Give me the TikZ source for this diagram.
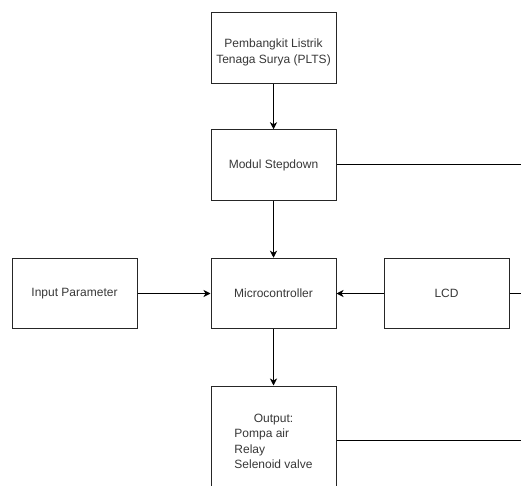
\documentclass[tikz,border=0pt]{standalone}
\usepackage{fontspec}
\setmainfont{Liberation Sans}
\usetikzlibrary{arrows.meta}
\newcommand{\lowered}[2]{\raisebox{-#1}[\height][\depth]{#2}}
\begin{document}
\begin{tikzpicture}[x=1pt,y=-1pt,
  blockbox/.style={draw=black!85, line width=1pt, minimum width=125pt, minimum height=70.5pt,
    inner sep=0pt, text=black!78, font=\fontsize{12}{15.5}\selectfont, align=center},
  arr/.style={draw=black, line width=1pt, -{Stealth[length=7pt,width=7pt,inset=2pt]}},
  plain/.style={draw=black, line width=1pt}]
\useasboundingbox (0,0) rectangle (521,486);
\clip (0,0) rectangle (521,486);
\fill[white] (0,0) rectangle (521,486);
\node[blockbox, font=\fontsize{12}{16}\selectfont] (plts) at (273.5,48)
  {\lowered{4.5pt}{\begin{tabular}{@{}c@{}}Pembangkit Listrik\\Tenaga Surya (PLTS)\end{tabular}}};
\node[blockbox] (modul) at (273.5,165) {Modul Stepdown};
\node[blockbox] (mcu) at (273.5,293.5) {Microcontroller};
\node[blockbox] (input) at (74.5,293.5) {Input Parameter};
\node[blockbox] (lcd) at (446.5,293.5) {LCD};
\node[blockbox, minimum height=108pt] (out) at (273.5,440)
  {\lowered{2.5pt}{\begin{tabular}{@{}l@{}}\multicolumn{1}{@{}c@{}}{Output:}\\Pompa air\\Relay\\Selenoid valve\end{tabular}}};
\coordinate (modulend) at (530,165);
\coordinate (lcdend) at (530,293.5);
\coordinate (outend) at (530,440);
\draw[arr] (plts) -- (modul);
\draw[arr] (modul) -- (mcu);
\draw[arr] (input) -- (mcu);
\draw[arr] (lcd) -- (mcu);
\draw[arr] (mcu) -- (out);
\draw[plain] (modul.east) -- (modulend);
\draw[plain] (lcd.east) -- (lcdend);
\draw[plain] (out.east) -- (outend);
\end{tikzpicture}
\end{document}
